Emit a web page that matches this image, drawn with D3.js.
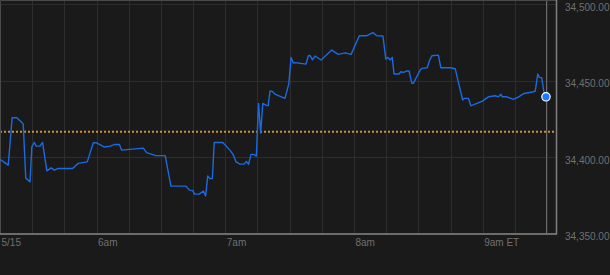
<!DOCTYPE html>
<html>
<head>
<meta charset="utf-8">
<script src="https://cdn.jsdelivr.net/npm/d3@7"></script>
<style>
  body { margin: 0; background: #1a1a1a; }
  svg { display: block; font-family: "Liberation Sans", Arial, sans-serif; }
</style>
</head>
<body>
<div id="chart"></div>
<script>
// intraday quotes (ET, 5/15)
var times = [
  "5:15:00","5:18:50","5:20:40","5:22:50","5:24:50","5:25:50","5:27:00","5:29:00","5:29:50","5:31:00",
  "5:31:50","5:33:40","5:34:50","5:36:50","5:38:50","5:40:20","5:42:10","5:48:50","5:51:30","5:55:40",
  "5:58:30","6:00:00","6:03:40","6:06:20","6:08:40","6:10:40","6:11:40","6:21:50","6:23:20","6:27:20",
  "6:32:00","6:34:40","6:41:40","6:43:20","6:44:50","6:45:40","6:47:50","6:49:50","6:50:50","6:51:50",
  "6:52:50","6:54:00","6:54:50","6:58:50","7:02:10","7:03:50","7:05:00","7:06:50","7:08:50","7:09:50",
  "7:10:50","7:12:00","7:13:10","7:14:30","7:15:30","7:16:30","7:17:30","7:19:20","7:20:00","7:20:50",
  "7:21:50","7:23:10","7:27:50","7:29:40","7:30:40","7:31:40","7:32:30","7:37:40","7:38:40","7:39:30",
  "7:40:40","7:41:50","7:44:40","7:49:40","7:52:40","7:55:50","7:58:40","8:02:30","8:06:00","8:08:50",
  "8:10:40","8:13:30","8:14:50","8:15:50","8:16:50","8:17:50","8:18:40","8:21:00","8:21:50","8:23:00",
  "8:24:40","8:25:40","8:27:00","8:27:40","8:30:50","8:31:40","8:34:10","8:35:10","8:36:20","8:39:20",
  "8:40:30","8:44:50","8:47:10","8:50:40","8:51:30","8:53:20","8:54:30","8:59:50","9:02:40","9:05:50",
  "9:07:20","9:08:30","9:09:10","9:11:10","9:14:20","9:16:20","9:19:20","9:23:40","9:24:30","9:25:40",
  "9:26:30","9:27:30","9:28:30","9:29:30"
];
var prices = [
  34398.5,34394.8,34425.8,34425.8,34423.1,34421.6,34386.4,34383.8,34406.7,34409.6,
  34407.2,34407.2,34409.6,34391.0,34393.0,34391.5,34392.6,34392.6,34395.9,34396.9,
  34409.4,34409.4,34406.6,34407.2,34408.3,34408.3,34404.6,34405.9,34403.0,34401.1,
  34401.0,34381.0,34381.0,34378.4,34378.2,34375.8,34375.8,34377.7,34374.6,34387.7,
  34385.9,34385.9,34409.6,34409.6,34404.6,34401.3,34396.9,34395.4,34395.4,34397.2,
  34395.2,34401.8,34401.8,34400.7,34435.2,34415.7,34435.2,34433.7,34433.7,34443.1,
  34443.1,34441.3,34438.5,34448.3,34465.3,34461.8,34461.9,34460.9,34466.2,34466.6,
  34463.6,34466.2,34463.6,34470.1,34467.3,34468.3,34467.3,34479.5,34479.5,34481.5,
  34479.5,34479.3,34464.2,34465.3,34463.6,34465.3,34454.4,34454.4,34455.9,34455.5,
  34456.4,34456.4,34448.3,34448.3,34457.0,34458.1,34458.5,34463.1,34466.4,34466.8,
  34458.5,34458.5,34457.9,34437.4,34438.5,34438.5,34433.6,34436.7,34439.5,34440.2,
  34439.5,34441.1,34439.5,34439.5,34437.8,34439.1,34441.7,34442.8,34443.3,34454.4,
  34452.2,34452.0,34442.8,34439.5
];
var prevClose = 34416.6;
var priceTicks = [34350, 34400, 34450, 34500];
var timeTicks = ["5:15:00", "6:00:00", "7:00:00", "8:00:00", "9:00:00"];
var timeLabels = ["5/15", "6am", "7am", "8am", "9am ET"];
var startTime = "5:15:00";
var endTime = "9:34:10";

function init() {
    var w = 610;
    var h = 275;
    var plotW = 556;
    var plotTop = 4.4;
    var plotBottom = 233.5;

    var parse = d3.timeParse("%H:%M:%S");
    var data = times.map(function(t, i) { return { t: parse(t), v: prices[i] }; });

    var xScale = d3.scaleTime()
        .domain([parse(startTime), parse(endTime)])
        .range([0, plotW]);
    var yScale = d3.scaleLinear()
        .domain([34350, 34500])
        .range([plotBottom, plotTop]);

    var svg = d3.select("#chart")
        .append("svg")
        .attr("width", w)
        .attr("height", h);

    svg.append("rect")
        .attr("width", w)
        .attr("height", h)
        .attr("fill", "#1a1a1a");

    // vertical grid every 15 minutes
    var grid = svg.append("g");
    grid.selectAll("line.vg")
        .data(d3.timeMinute.every(15).range(parse(startTime), parse(endTime)).slice(1))
        .enter()
        .append("line")
        .attr("x1", function(d) { return Math.round(xScale(d)) + 0.5; })
        .attr("x2", function(d) { return Math.round(xScale(d)) + 0.5; })
        .attr("y1", 0)
        .attr("y2", plotBottom)
        .attr("stroke", "#2d2d2d")
        .attr("stroke-width", 1);

    // horizontal grid
    grid.selectAll("line.hg")
        .data(priceTicks.slice(1))
        .enter()
        .append("line")
        .attr("x1", 0)
        .attr("x2", plotW)
        .attr("y1", function(d) { return Math.round(yScale(d)) + 0.5; })
        .attr("y2", function(d) { return Math.round(yScale(d)) + 0.5; })
        .attr("stroke", "#2d2d2d")
        .attr("stroke-width", 1);

    // previous close
    svg.append("line")
        .attr("x1", 0)
        .attr("x2", plotW)
        .attr("y1", yScale(prevClose))
        .attr("y2", yScale(prevClose))
        .attr("stroke", "#c8913a")
        .attr("stroke-width", 2)
        .attr("stroke-dasharray", "2,2");

    // frame
    svg.append("path")
        .attr("d", "M0.5," + (plotBottom + 0.5) + "V0.5H" + (plotW + 0.5) + "V" + (plotBottom + 0.5) + "Z")
        .attr("fill", "none")
        .attr("stroke", "#4a4a4a")
        .attr("stroke-width", 1);
    svg.append("path")
        .attr("d", "M0," + (plotBottom + 0.5) + "H" + (plotW + 0.5) + "V0")
        .attr("fill", "none")
        .attr("stroke", "#808080")
        .attr("stroke-width", 1.5);

    var last = data[data.length - 1];

    // cursor at latest quote
    svg.append("line")
        .attr("x1", Math.round(xScale(last.t)) + 0.5)
        .attr("x2", Math.round(xScale(last.t)) + 0.5)
        .attr("y1", 1)
        .attr("y2", plotBottom)
        .attr("stroke", "#6a6a6a")
        .attr("stroke-width", 1);

    var line = d3.line()
        .x(function(d) { return xScale(d.t); })
        .y(function(d) { return yScale(d.v); });

    svg.append("path")
        .datum(data)
        .attr("fill", "none")
        .attr("stroke", "#1a6ae2")
        .attr("stroke-width", 1.4)
        .attr("stroke-linejoin", "round")
        .attr("d", line);

    svg.append("circle")
        .attr("cx", xScale(last.t))
        .attr("cy", yScale(last.v))
        .attr("r", 4.2)
        .attr("fill", "#1c7cff")
        .attr("stroke", "#ffffff")
        .attr("stroke-width", 1.2);

    // right price axis
    var yAxis = d3.axisRight(yScale)
        .tickValues(priceTicks)
        .tickSize(0)
        .tickPadding(9)
        .tickFormat(d3.format(",.2f"));
    var ya = svg.append("g")
        .attr("transform", "translate(" + plotW + ",3)")
        .call(yAxis);
    ya.select(".domain").remove();
    ya.selectAll("text")
        .attr("fill", "#707070")
        .style("font-size", "10px")
        .style("font-family", "'Liberation Sans', Arial, sans-serif");

    // bottom time axis
    var xAxis = d3.axisBottom(xScale)
        .tickValues(timeTicks.map(parse))
        .tickSize(0)
        .tickPadding(0)
        .tickFormat(function(d, i) { return timeLabels[i]; });
    var xa = svg.append("g")
        .attr("transform", "translate(1," + (plotBottom + 5) + ")")
        .call(xAxis);
    xa.select(".domain").remove();
    xa.selectAll("text")
        .attr("text-anchor", "start")
        .attr("fill", "#707070")
        .style("font-size", "10px")
        .style("font-family", "'Liberation Sans', Arial, sans-serif");
}
window.onload = init;
</script>
</body>
</html>
